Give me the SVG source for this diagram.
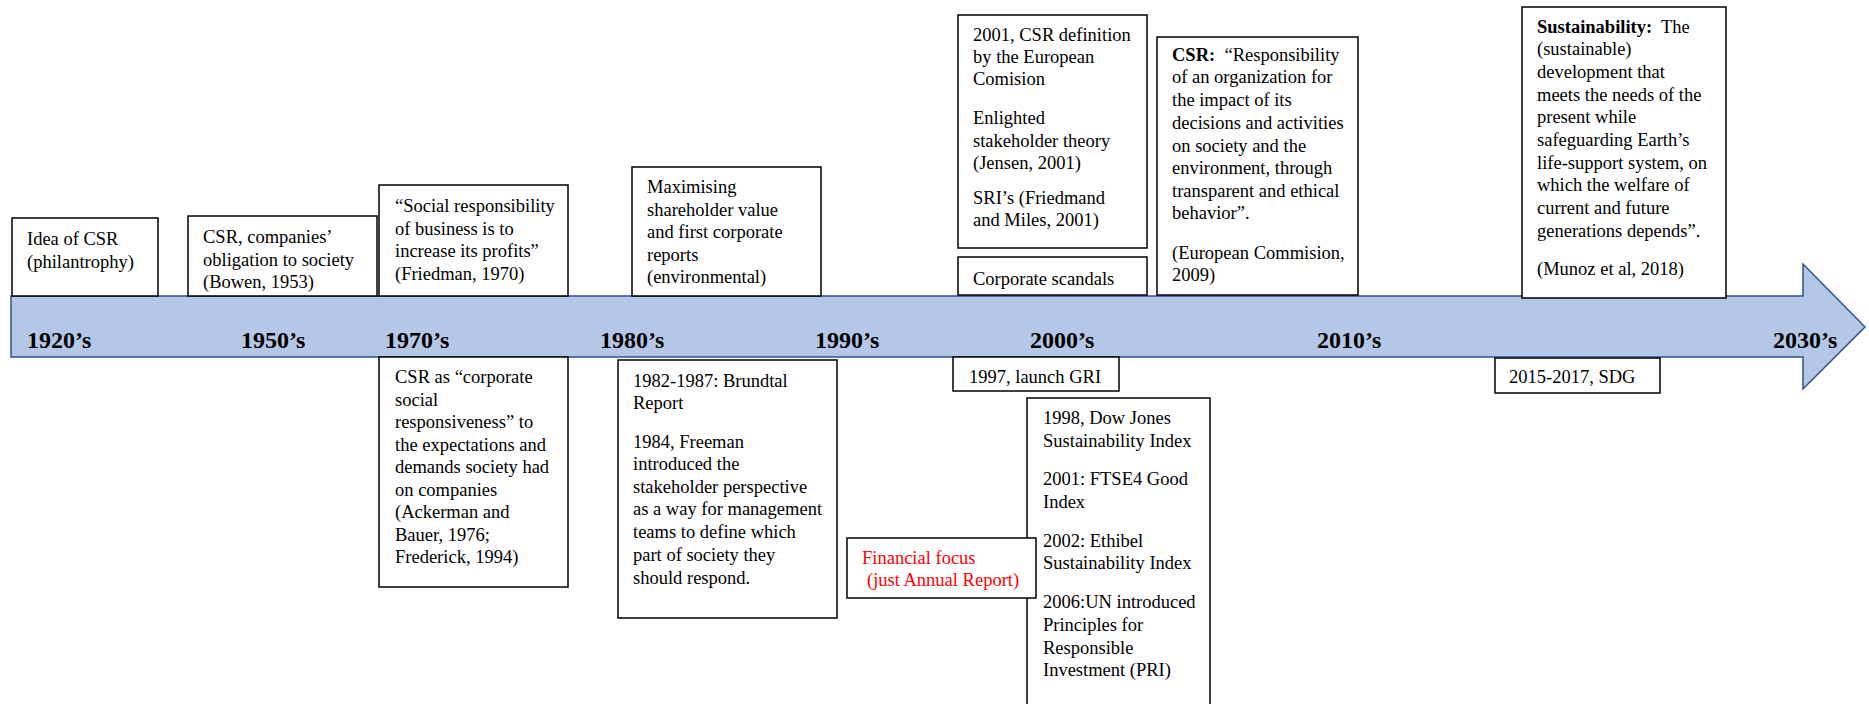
<svg xmlns="http://www.w3.org/2000/svg" width="1869" height="704" viewBox="0 0 1869 704">
<style>
.box{fill:#fff;stroke:#000;stroke-width:1.5}
.t{font-family:"Liberation Serif","Times New Roman",serif;font-size:18.5px;fill:#000;white-space:pre}
.red{fill:#ff0000}
.b{font-weight:bold}
.yr{font-family:"Liberation Serif","Times New Roman",serif;font-size:24px;font-weight:bold;fill:#000}
</style>
<rect width="1869" height="704" fill="#fff"/>
<g id="timeline">
<path d="M11 296 H1803 V264 L1865 327 L1803 389 V357 H11 Z" fill="#B4C7E7" stroke="#2F528F" stroke-width="1.5"/>
<text class="yr" x="27" y="348">1920’s</text>
<text class="yr" x="241" y="348">1950’s</text>
<text class="yr" x="385" y="348">1970’s</text>
<text class="yr" x="600" y="348">1980’s</text>
<text class="yr" x="815" y="348">1990’s</text>
<text class="yr" x="1030" y="348">2000’s</text>
<text class="yr" x="1317" y="348">2010’s</text>
<text class="yr" x="1773" y="348">2030’s</text>
</g>
<g id="connectors"></g>
<g id="n-idea">
<rect class="box" x="12" y="218" width="146" height="78"/>
<text class="t" x="27" y="245">Idea of CSR</text>
<text class="t" x="27" y="268">(philantrophy)</text>
</g>
<g id="n-bowen">
<rect class="box" x="188" y="216" width="189" height="80"/>
<text class="t" x="203" y="243">CSR, companies’</text>
<text class="t" x="203" y="266">obligation to society</text>
<text class="t" x="203" y="288">(Bowen, 1953)</text>
</g>
<g id="n-friedman">
<rect class="box" x="379" y="185" width="189" height="111"/>
<text class="t" x="395" y="212">“Social responsibility</text>
<text class="t" x="395" y="234.5">of business is to</text>
<text class="t" x="395" y="257">increase its profits”</text>
<text class="t" x="395" y="279.5">(Friedman, 1970)</text>
</g>
<g id="n-shareholder">
<rect class="box" x="632" y="167" width="189" height="129"/>
<text class="t" x="647" y="193">Maximising</text>
<text class="t" x="647" y="215.5">shareholder value</text>
<text class="t" x="647" y="238">and first corporate</text>
<text class="t" x="647" y="260.5">reports</text>
<text class="t" x="647" y="283">(environmental)</text>
</g>
<g id="n-ec2001">
<rect class="box" x="958" y="15" width="189" height="233"/>
<text class="t" x="973" y="41">2001, CSR definition</text>
<text class="t" x="973" y="63">by the European</text>
<text class="t" x="973" y="85">Comision</text>
<text class="t" x="973" y="124">Enlighted</text>
<text class="t" x="973" y="147">stakeholder theory</text>
<text class="t" x="973" y="169">(Jensen, 2001)</text>
<text class="t" x="973" y="204">SRI’s (Friedmand</text>
<text class="t" x="973" y="226">and Miles, 2001)</text>
</g>
<g id="n-scandals">
<rect class="box" x="958" y="257" width="189" height="38"/>
<text class="t" x="973" y="285">Corporate scandals</text>
</g>
<g id="n-csrdef">
<rect class="box" x="1157" y="37" width="201" height="258"/>
<text class="t" x="1172" y="61" xml:space="preserve"><tspan class="b">CSR:</tspan>  “Responsibility</text>
<text class="t" x="1172" y="83">of an organization for</text>
<text class="t" x="1172" y="106">the impact of its</text>
<text class="t" x="1172" y="129">decisions and activities</text>
<text class="t" x="1172" y="152">on society and the</text>
<text class="t" x="1172" y="174">environment, through</text>
<text class="t" x="1172" y="197">transparent and ethical</text>
<text class="t" x="1172" y="219">behavior”.</text>
<text class="t" x="1172" y="259">(European Commision,</text>
<text class="t" x="1172" y="281">2009)</text>
</g>
<g id="n-sustainability">
<rect class="box" x="1522" y="7" width="204" height="291"/>
<text class="t" x="1537" y="33" xml:space="preserve"><tspan class="b">Sustainability:</tspan>  The</text>
<text class="t" x="1537" y="55">(sustainable)</text>
<text class="t" x="1537" y="78">development that</text>
<text class="t" x="1537" y="101">meets the needs of the</text>
<text class="t" x="1537" y="123">present while</text>
<text class="t" x="1537" y="146">safeguarding Earth’s</text>
<text class="t" x="1537" y="169">life-support system, on</text>
<text class="t" x="1537" y="191">which the welfare of</text>
<text class="t" x="1537" y="214">current and future</text>
<text class="t" x="1537" y="237">generations depends”.</text>
<text class="t" x="1537" y="275">(Munoz et al, 2018)</text>
</g>
<g id="n-responsiveness">
<rect class="box" x="379" y="357" width="189" height="230"/>
<text class="t" x="395" y="383">CSR as “corporate</text>
<text class="t" x="395" y="405.5">social</text>
<text class="t" x="395" y="428">responsiveness” to</text>
<text class="t" x="395" y="450.5">the expectations and</text>
<text class="t" x="395" y="473">demands society had</text>
<text class="t" x="395" y="495.5">on companies</text>
<text class="t" x="395" y="518">(Ackerman and</text>
<text class="t" x="395" y="540.5">Bauer, 1976;</text>
<text class="t" x="395" y="563">Frederick, 1994)</text>
</g>
<g id="n-brundtal">
<rect class="box" x="618" y="360" width="219" height="258"/>
<text class="t" x="633" y="387">1982-1987: Brundtal</text>
<text class="t" x="633" y="409">Report</text>
<text class="t" x="633" y="448">1984, Freeman</text>
<text class="t" x="633" y="470">introduced the</text>
<text class="t" x="633" y="493">stakeholder perspective</text>
<text class="t" x="633" y="515">as a way for management</text>
<text class="t" x="633" y="538">teams to define which</text>
<text class="t" x="633" y="561">part of society they</text>
<text class="t" x="633" y="584">should respond.</text>
</g>
<g id="n-gri">
<rect class="box" x="953" y="357" width="166" height="34"/>
<text class="t" x="969" y="383">1997, launch GRI</text>
</g>
<g id="n-indices">
<rect class="box" x="1027" y="398" width="183" height="320"/>
<text class="t" x="1043" y="424">1998, Dow Jones</text>
<text class="t" x="1043" y="447">Sustainability Index</text>
<text class="t" x="1043" y="485">2001: FTSE4 Good</text>
<text class="t" x="1043" y="508">Index</text>
<text class="t" x="1043" y="547">2002: Ethibel</text>
<text class="t" x="1043" y="569">Sustainability Index</text>
<text class="t" x="1043" y="608">2006:UN introduced</text>
<text class="t" x="1043" y="631">Principles for</text>
<text class="t" x="1043" y="654">Responsible</text>
<text class="t" x="1043" y="676">Investment (PRI)</text>
</g>
<g id="n-financial">
<rect class="box" x="847" y="538" width="189" height="60"/>
<text class="t red" x="862" y="564">Financial focus</text>
<text class="t red" x="867" y="586">(just Annual Report)</text>
</g>
<g id="n-sdg">
<rect class="box" x="1495" y="358" width="165" height="35"/>
<text class="t" x="1509" y="383">2015-2017, SDG</text>
</g>
</svg>
